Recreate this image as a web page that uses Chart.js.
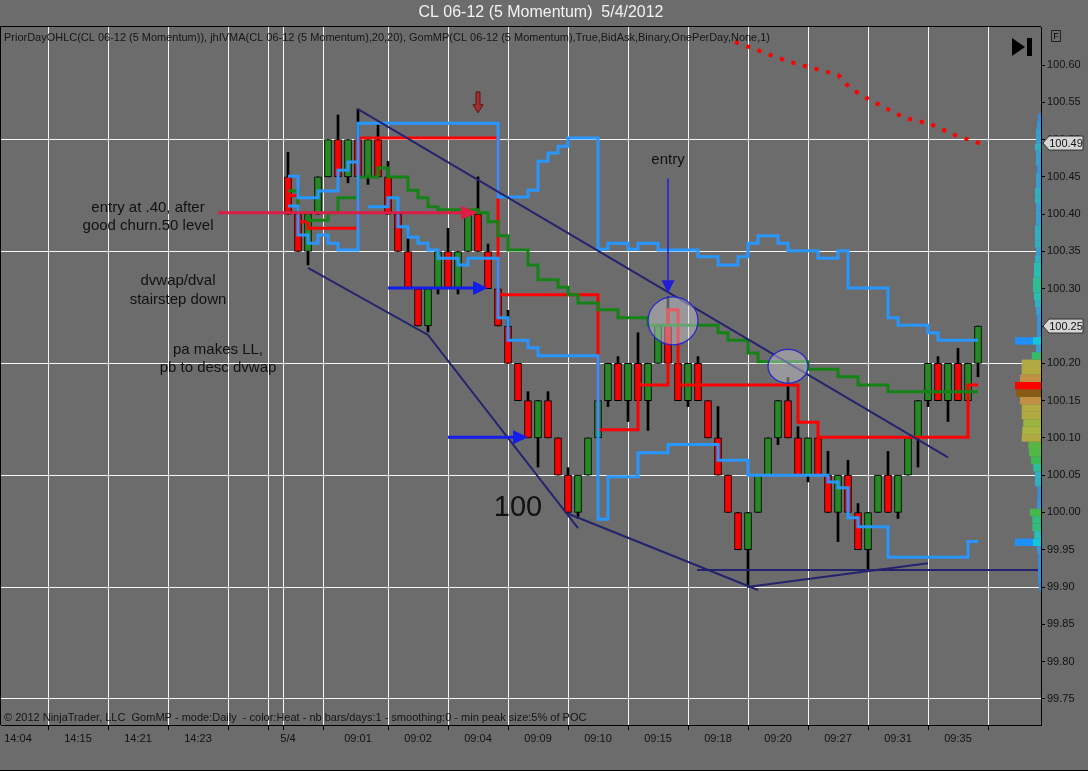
<!DOCTYPE html>
<html>
<head>
<meta charset="utf-8">
<title>CL 06-12 (5 Momentum) 5/4/2012</title>
<script src="https://cdn.jsdelivr.net/npm/chart.js@4.4.0/dist/chart.umd.min.js"></script>
<style>
  html, body { margin: 0; padding: 0; background: #6c6c6c; overflow: hidden; }
  #wrap { width: 1088px; height: 771px; }
</style>
</head>
<body>
<div id="wrap"><canvas id="myChart" width="1088" height="771" style="width:1088px;height:771px"></canvas></div>
<script>
console.log("working");

// 5 momentum bars, first one sits on slot 29 of the x axis
var firstBar = 29;
var opens = [100.45,100.40,100.35,100.40,100.45,100.50,100.45,100.50,100.45,100.50,
             100.45,100.40,100.35,100.30,100.25,100.30,100.35,100.30,100.35,100.40,
             100.35,100.30,100.25,100.20,100.15,100.10,100.15,100.10,100.05,100.00,
             100.05,100.10,100.15,100.20,100.15,100.20,100.15,100.20,100.25,100.20,
             100.15,100.20,100.15,100.10,100.05,100.00,99.95,100.00,100.05,100.10,
             100.15,100.10,100.05,100.10,100.05,100.00,100.05,100.00,99.95,100.00,
             100.05,100.00,100.05,100.10,100.15,100.20,100.15,100.20,100.15,100.20];
var closes = [100.40,100.35,100.40,100.45,100.50,100.45,100.50,100.45,100.50,100.45,
              100.40,100.35,100.30,100.25,100.30,100.35,100.30,100.35,100.40,100.35,
              100.30,100.25,100.20,100.15,100.10,100.15,100.10,100.05,100.00,100.05,
              100.10,100.15,100.20,100.15,100.20,100.15,100.20,100.25,100.20,100.15,
              100.20,100.15,100.10,100.05,100.00,99.95,100.00,100.05,100.10,100.15,
              100.10,100.05,100.10,100.05,100.00,100.05,100.00,99.95,100.00,100.05,
              100.00,100.05,100.10,100.15,100.20,100.15,100.20,100.15,100.20,100.25];
var highs = [100.483,100.40,100.40,100.45,100.50,100.533,100.50,100.541,100.50,100.52,
             100.471,100.40,100.372,100.30,100.30,100.35,100.381,100.35,100.40,100.45,
             100.36,100.30,100.271,100.20,100.162,100.15,100.162,100.10,100.06,100.05,
             100.10,100.15,100.20,100.209,100.20,100.241,100.20,100.25,100.289,100.20,
             100.20,100.209,100.15,100.142,100.05,100.00,100.00,100.05,100.10,100.15,
             100.181,100.115,100.10,100.10,100.082,100.05,100.070,100.012,100.00,100.05,
             100.082,100.05,100.10,100.15,100.20,100.209,100.20,100.22,100.20,100.25];
var lows = [100.40,100.35,100.332,100.40,100.45,100.45,100.442,100.45,100.44,100.45,
            100.40,100.35,100.30,100.25,100.242,100.293,100.30,100.293,100.35,100.35,
            100.30,100.25,100.20,100.15,100.10,100.061,100.10,100.05,100.00,99.992,
            100.05,100.10,100.142,100.15,100.122,100.15,100.11,100.20,100.20,100.15,
            100.142,100.15,100.10,100.05,100.00,99.95,99.903,100.00,100.05,100.091,
            100.10,100.05,100.041,100.05,100.00,99.961,100.00,99.95,99.924,100.00,
            100.00,99.992,100.05,100.061,100.142,100.15,100.122,100.15,100.15,100.182];

// axis ticks
var xTickBars = [2, 8, 14, 20, 26, 28, 29, 36, 42, 48, 54, 60, 66, 72, 78, 84, 90, 96];
var xTickLabels = ['14:04','14:15','14:21','14:23','','','5/4','09:01','09:02','09:04','09:09','09:10','09:15','09:18','09:20','09:27','09:31','09:35'];
var yTickValues = [99.75,99.80,99.85,99.90,99.95,100.00,100.05,100.10,100.15,100.20,100.25,100.30,100.35,100.40,100.45,100.50,100.55,100.60];
var yGridValues = [99.75,99.90,100.05,100.20,100.35,100.50];

// jhIVMA bands + dvwap (step lines, value changes at these bars)
var upperBars = [29,30,32,34,35,36,50,53,54,55,56,57,60,61,63,64,66,70,72,74,75,76,78,79,82,84,85,89,90,93,94,98];
var upperVals = [100.451,100.422,100.431,100.459,100.470,100.522,100.423,100.432,100.471,100.482,100.491,100.502,100.353,100.361,100.353,100.361,100.352,100.343,100.332,100.343,100.361,100.371,100.361,100.351,100.341,100.351,100.301,100.261,100.251,100.241,100.231,100.231];
var lowerBars = [29,30,31,32,33,34,36,36.5,37,39,40,41,42,43,44,46,47,50,51,53,54,60,61,64,67,72,75,83,84,85,86,89,97,98];
var lowerVals = [100.411,100.372,100.361,100.372,100.361,100.352,100.471,null,100.410,100.422,100.383,100.369,100.361,100.352,100.341,100.332,100.341,100.261,100.231,100.221,100.210,99.991,100.048,100.080,100.091,100.070,100.050,100.041,100.033,99.993,99.981,99.940,99.961,99.961];
var vwapBars = [29,30,31,33,34,36,38,39,41,42,43,44,48,49,50,51,53,54,56,57,58,60,62,65,72,73,75,76,81,84,86,89,98];
var vwapVals = [100.431,100.402,100.392,100.402,100.422,100.450,100.462,100.450,100.432,100.422,100.410,100.406,100.402,100.390,100.371,100.352,100.332,100.312,100.302,100.292,100.281,100.272,100.261,100.251,100.241,100.231,100.214,100.202,100.192,100.182,100.171,100.162,100.162];
// red developing value line
var dvalBars = [29,30,31,36,50,60,64,67,68,80,82,97,98];
var dvalVals = [100.425,100.390,100.381,100.502,100.292,100.111,100.171,100.272,100.171,100.121,100.101,100.171,100.171];
// prior day dotted line, top right
var priorBars = [73.7,79.2,84.0,85.2,87.2,90.7,93.2,95.7,98.2];
var priorVals = [100.631,100.604,100.587,100.569,100.553,100.529,100.521,100.506,100.495];

// GomMP volume profile, one row per tick
var profilePrices = [99.90,99.91,99.92,99.93,99.94,99.95,99.96,99.97,99.98,99.99,
                     100.00,100.01,100.02,100.03,100.04,100.05,100.06,100.07,100.08,100.09,
                     100.10,100.11,100.12,100.13,100.14,100.15,100.16,100.17,100.18,100.19,
                     100.20,100.21,100.22,100.23,100.24,100.25,100.26,100.27,100.28,100.29,
                     100.30,100.31,100.32,100.33,100.34,100.35,100.36,100.37,100.38,100.39,
                     100.40,100.41,100.42,100.43,100.44,100.45,100.46,100.47,100.48,100.49,
                     100.50,100.51,100.52,100.53];
var profileVols = [20,30,30,30,30,40,50,67,87,87,
                   110,40,35,35,60,60,77,100,120,127,
                   193,187,177,193,193,210,250,260,210,193,
                   193,93,50,45,40,40,40,50,60,70,
                   80,80,70,70,60,50,60,60,60,50,
                   50,50,60,60,50,50,40,50,50,60,
                   50,50,40,30];
var profileMarks = [100.23, 99.96];
var lastPrice = 100.25;
var priorClose = 100.49;

// drawn objects (bar slot, price)
var trendLines = [
  [[36.0,100.541],[95.0,100.074]],
  [[31.0,100.328],[43.0,100.238],[58.0,99.979]],
  [[56.9,99.999],[76.0,99.896]],
  [[74.9,99.900],[93.0,99.932]],
  [[69.9,99.923],[104.3,99.923]]
];
var arrows = [
  {from:[22.0,100.402], to:[48.0,100.402], color:'rgb(220,30,70)', width:3, head:17, half:7},
  {from:[39.0,100.301], to:[49.0,100.301], color:'rgb(20,30,235)', width:3, head:15, half:7},
  {from:[45.0,100.101], to:[53.0,100.101], color:'rgb(20,30,235)', width:3, head:15, half:7},
  {from:[67.0,100.448], to:[67.0,100.294], color:'rgb(30,30,215)', width:1.5, head:13, half:6.5}
];
var circles = [
  {at:[67.5,100.257], rx:25, ry:24},
  {at:[79.0,100.196], rx:20, ry:17}
];
var notes = [
  {text:'entry at .40, after', at:[15.0,100.408], size:15},
  {text:'good churn.50 level', at:[15.0,100.384], size:15},
  {text:'dvwap/dval', at:[18.0,100.310], size:15},
  {text:'stairstep down', at:[18.0,100.285], size:15},
  {text:'pa makes LL,', at:[22.0,100.218], size:15},
  {text:'pb to desc dvwap', at:[22.0,100.194], size:15},
  {text:'100', at:[52.0,100.006], size:29},
  {text:'entry', at:[67.0,100.473], size:15}
];
var downMarker = {from:[48.0,100.564], to:[48.0,100.536]};

var headerText = 'PriorDayOHLC(CL 06-12 (5 Momentum)), jhIVMA(CL 06-12 (5 Momentum),20,20), GomMP(CL 06-12 (5 Momentum),True,BidAsk,Binary,OnePerDay,None,1)';
var footerText = '\u00a9 2012 NinjaTrader, LLC  GomMP - mode:Daily  - color:Heat - nb bars/days:1 - smoothing:0 - min peak size:5% of POC';
var titleText = 'CL 06-12 (5 Momentum)  5/4/2012';

var FONT = "'Liberation Sans', Arial, sans-serif";
var BG = '#6c6c6c';

function pts(bars, vals) {
  return bars.map(function (b, i) { return {x: b, y: vals[i]}; });
}

var wickData = [], bodyData = [], bodyColors = [];
for (var i = 0; i < opens.length; i++) {
  wickData.push({x: firstBar + i, y: [lows[i], highs[i]]});
  bodyData.push({x: firstBar + i, y: [opens[i], closes[i]]});
  bodyColors.push(closes[i] >= opens[i] ? 'rgb(34,139,34)' : 'rgb(255,0,0)');
}

var heatStops = [[0,[45,120,225]],[0.18,[60,150,215]],[0.26,[40,190,185]],[0.4,[60,185,75]],[0.55,[110,180,60]],
                 [0.72,[170,180,65]],[0.8,[195,145,70]],[0.9,[185,120,50]],[0.96,[130,95,20]],[1.0,[255,0,0]]];
function heat(r) {
  for (var k = 1; k < heatStops.length; k++) {
    if (r <= heatStops[k][0]) {
      var a = heatStops[k - 1], b = heatStops[k];
      var t = (r - a[0]) / (b[0] - a[0]);
      var c = a[1].map(function (v, j) { return Math.round(v + (b[1][j] - v) * t); });
      return 'rgb(' + c.join(',') + ')';
    }
  }
  return 'rgb(255,0,0)';
}

function arrowLine(ctx, x1, y1, x2, y2, color, lw, head, half) {
  var ang = Math.atan2(y2 - y1, x2 - x1);
  var bx = x2 - Math.cos(ang) * head, by = y2 - Math.sin(ang) * head;
  ctx.strokeStyle = color; ctx.fillStyle = color; ctx.lineWidth = lw;
  ctx.beginPath(); ctx.moveTo(x1, y1); ctx.lineTo(bx, by); ctx.stroke();
  ctx.beginPath();
  ctx.moveTo(x2, y2);
  ctx.lineTo(bx + Math.sin(ang) * half, by - Math.cos(ang) * half);
  ctx.lineTo(bx - Math.sin(ang) * half, by + Math.cos(ang) * half);
  ctx.closePath(); ctx.fill();
}

function priceBox(ctx, y, text) {
  ctx.beginPath();
  ctx.moveTo(1043, y);
  ctx.lineTo(1049, y - 7);
  ctx.lineTo(1083, y - 7);
  ctx.lineTo(1083, y + 7);
  ctx.lineTo(1049, y + 7);
  ctx.closePath();
  ctx.fillStyle = 'rgb(214,214,214)'; ctx.fill();
  ctx.strokeStyle = '#333'; ctx.lineWidth = 1; ctx.stroke();
  ctx.fillStyle = '#111'; ctx.font = '11px ' + FONT;
  ctx.textAlign = 'center'; ctx.textBaseline = 'middle';
  ctx.fillText(text, 1066, y + 0.5);
}

var backdrop = {
  id: 'backdrop',
  beforeDraw: function (chart) {
    var ctx = chart.ctx;
    ctx.save();
    ctx.fillStyle = BG;
    ctx.fillRect(0, 0, chart.width, chart.height);
    ctx.restore();
  }
};

var overlay = {
  id: 'overlay',
  afterDraw: function (chart) {
    var ctx = chart.ctx, xs = chart.scales.x, ys = chart.scales.y, ca = chart.chartArea;
    function px(v) { return xs.getPixelForValue(v); }
    function py(v) { return ys.getPixelForValue(v); }
    ctx.save();

    // volume profile
    var maxVol = Math.max.apply(null, profileVols);
    var rowH = Math.abs(py(100.00) - py(100.01));
    for (var i = 0; i < profilePrices.length; i++) {
      var w = profileVols[i] / maxVol * 26;
      ctx.fillStyle = heat(profileVols[i] / maxVol);
      ctx.fillRect(ca.right - w, py(profilePrices[i]) - rowH / 2, w, rowH);
    }
    profileMarks.forEach(function (p) {
      ctx.fillStyle = 'rgb(30,144,255)';
      ctx.fillRect(ca.right - 26, py(p) - rowH / 2, 18, rowH);
      ctx.fillStyle = 'rgb(20,200,215)';
      ctx.fillRect(ca.right - 8, py(p) - rowH / 2, 8, rowH);
    });

    // circles
    circles.forEach(function (c) {
      ctx.beginPath();
      ctx.ellipse(px(c.at[0]), py(c.at[1]), c.rx, c.ry, 0, 0, Math.PI * 2);
      ctx.fillStyle = 'rgba(205,205,215,0.45)'; ctx.fill();
      ctx.strokeStyle = 'rgb(40,40,200)'; ctx.lineWidth = 1.3; ctx.stroke();
    });

    // arrows
    arrows.forEach(function (a) {
      arrowLine(ctx, px(a.from[0]), py(a.from[1]), px(a.to[0]), py(a.to[1]), a.color, a.width, a.head, a.half);
    });

    // small block arrow at the top
    var mx = px(downMarker.from[0]), my1 = py(downMarker.from[1]), my2 = py(downMarker.to[1]);
    ctx.beginPath();
    ctx.moveTo(mx - 2, my1); ctx.lineTo(mx + 2, my1); ctx.lineTo(mx + 2, my2 - 8);
    ctx.lineTo(mx + 5, my2 - 8); ctx.lineTo(mx, my2); ctx.lineTo(mx - 5, my2 - 8);
    ctx.lineTo(mx - 2, my2 - 8); ctx.closePath();
    ctx.fillStyle = 'rgb(165,45,45)'; ctx.fill();
    ctx.strokeStyle = 'rgb(90,20,20)'; ctx.lineWidth = 1; ctx.stroke();

    // notes
    ctx.fillStyle = '#111';
    ctx.textAlign = 'center'; ctx.textBaseline = 'middle';
    notes.forEach(function (n) {
      ctx.font = n.size + 'px ' + FONT;
      ctx.fillText(n.text, px(n.at[0]), py(n.at[1]));
    });

    // frame
    ctx.strokeStyle = '#000'; ctx.lineWidth = 1;
    ctx.beginPath();
    ctx.moveTo(0, ca.top - 0.5); ctx.lineTo(ca.right, ca.top - 0.5);
    ctx.moveTo(0.5, ca.top); ctx.lineTo(0.5, ca.bottom);
    ctx.moveTo(0, chart.height - 0.5); ctx.lineTo(chart.width, chart.height - 0.5);
    ctx.stroke();

    // title, indicator line, footer
    ctx.fillStyle = '#f4f4f4';
    ctx.font = '16px ' + FONT;
    ctx.textAlign = 'center'; ctx.textBaseline = 'middle';
    ctx.fillText(titleText, 541, 13, 245);
    ctx.fillStyle = '#151515';
    ctx.font = '11px ' + FONT;
    ctx.textAlign = 'left';
    ctx.fillText(headerText, 4, 38, 766);
    ctx.fillText(footerText, 4, 718, 585);

    // scroll-to-end glyph and F box
    ctx.fillStyle = '#000';
    ctx.beginPath(); ctx.moveTo(1012, 38); ctx.lineTo(1025, 47); ctx.lineTo(1012, 56); ctx.closePath(); ctx.fill();
    ctx.fillRect(1027, 38, 5, 18);
    ctx.strokeStyle = '#222';
    ctx.strokeRect(1051.5, 30.5, 9, 11);
    ctx.font = '9px ' + FONT; ctx.textAlign = 'center';
    ctx.fillText('F', 1056, 36.5);

    // price markers on the axis (prior close box sits a little above its level, as in NinjaTrader)
    priceBox(ctx, py(priorClose) - 4, priorClose.toFixed(2));
    priceBox(ctx, py(lastPrice), lastPrice.toFixed(2));

    ctx.restore();
  }
};

function isGrid(v) {
  return yGridValues.some(function (g) { return Math.abs(g - v) < 1e-6; });
}

var datasets = [
  {type: 'bar', data: wickData, backgroundColor: '#000', barThickness: 2, grouped: false, order: 20},
  {type: 'bar', data: bodyData, backgroundColor: bodyColors, borderColor: '#000', borderWidth: 1,
   borderSkipped: false, barThickness: 7, grouped: false, order: 19},
  {type: 'line', data: pts(dvalBars, dvalVals), borderColor: 'rgb(255,0,0)', borderWidth: 3, stepped: true, pointRadius: 0, order: 18},
  {type: 'line', data: pts(vwapBars, vwapVals), borderColor: 'rgb(20,130,20)', borderWidth: 3, stepped: true, pointRadius: 0, order: 17},
  {type: 'line', data: pts(lowerBars, lowerVals), borderColor: 'rgb(40,150,255)', borderWidth: 3, stepped: true, pointRadius: 0, order: 16},
  {type: 'line', data: pts(upperBars, upperVals), borderColor: 'rgb(40,150,255)', borderWidth: 3, stepped: true, pointRadius: 0, order: 15},
  {type: 'line', data: pts(priorBars, priorVals), borderColor: 'rgb(255,0,0)', borderWidth: 4, borderDash: [4, 8],
   borderCapStyle: 'butt', pointRadius: 0, order: 14}
];
trendLines.forEach(function (t) {
  datasets.push({type: 'line', data: t.map(function (p) { return {x: p[0], y: p[1]}; }),
    borderColor: 'rgb(36,36,110)', borderWidth: 2, pointRadius: 0, order: 10});
});

var myChart = document.getElementById('myChart').getContext('2d');
var momentumChart = new Chart(myChart, {
  type: 'line',
  data: {datasets: datasets},
  plugins: [backdrop, overlay],
  options: {
    responsive: false,
    animation: false,
    devicePixelRatio: 1,
    events: [],
    layout: {padding: {left: 1, top: 27, right: 0, bottom: 0}},
    plugins: {legend: {display: false}, tooltip: {enabled: false}},
    scales: {
      x: {
        type: 'linear', position: 'bottom', min: 0.3, max: 104.3, offset: false,
        afterBuildTicks: function (s) { s.ticks = xTickBars.map(function (v) { return {value: v}; }); },
        afterFit: function (s) { s.height = 46; },
        ticks: {
          autoSkip: false, maxRotation: 0, padding: 2, color: '#111',
          font: {family: FONT, size: 11},
          callback: function (v, idx) { return xTickLabels[idx]; }
        },
        grid: {color: 'rgba(255,255,255,0.95)', tickColor: '#000', tickLength: 5, lineWidth: 1},
        border: {color: '#000', width: 1}
      },
      y: {
        type: 'linear', position: 'right', min: 99.715, max: 100.651,
        afterBuildTicks: function (s) { s.ticks = yTickValues.map(function (v) { return {value: v}; }); },
        afterFit: function (s) { s.width = 47; },
        ticks: {
          autoSkip: false, padding: 2, color: '#111',
          font: {family: FONT, size: 11},
          callback: function (v) { return Number(v).toFixed(2); }
        },
        grid: {
          color: function (c) { return c.tick && isGrid(c.tick.value) ? 'rgba(255,255,255,0.95)' : 'rgba(0,0,0,0)'; },
          tickColor: '#000', tickLength: 4, lineWidth: 1
        },
        border: {color: '#000', width: 1}
      }
    }
  }
});
</script>
</body>
</html>
